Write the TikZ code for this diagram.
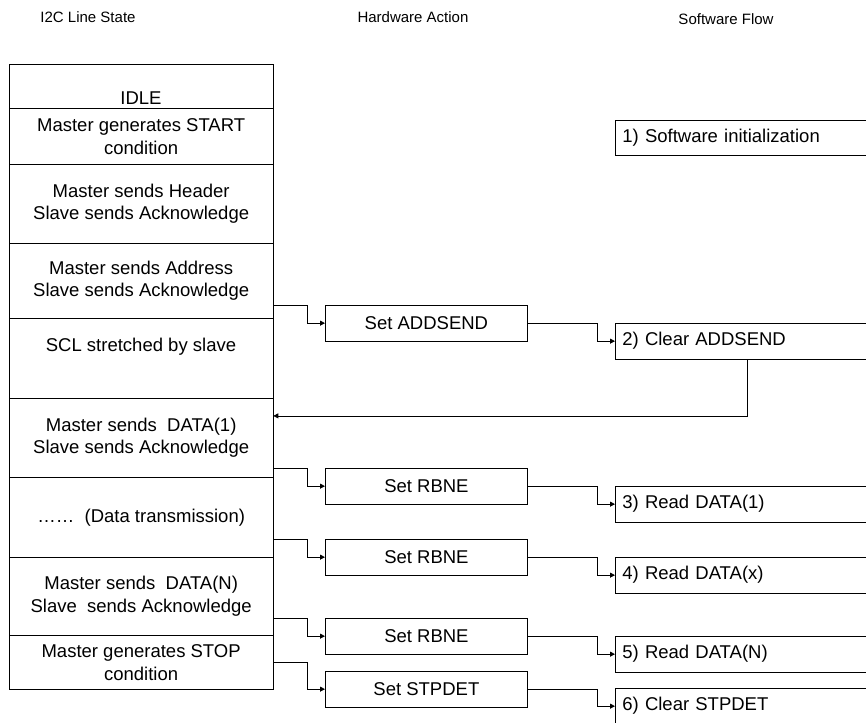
\documentclass[tikz,border=0pt]{standalone}
\usepackage{fontspec}
\setmainfont{Liberation Sans}
\usetikzlibrary{arrows.meta,calc}
\begin{document}
\begin{tikzpicture}[x=1pt,y=-1pt,
 every node/.style={font=\fontsize{18.5}{22.5}\selectfont, inner sep=0pt},
 cell/.style={draw, line width=0.8pt, minimum width=263.5, anchor=north west, align=center},
 hwbox/.style={draw, line width=0.8pt, minimum width=202, minimum height=35.5, anchor=north west},
 swbox/.style={draw, line width=0.8pt, minimum height=35.5, anchor=north west, text width=246, align=left, inner xsep=7pt},
 conn/.style={line width=0.8pt, -{Triangle[length=5pt,width=5pt]}},
 head/.style={font=\fontsize{15}{18}\selectfont}]
\useasboundingbox (0,0) rectangle (866,722);
\clip (0,0) rectangle (866,722);
% headers
\node[head] (h1) at (88,17) {I2C Line State};
\node[head] (h2) at (413,17) {Hardware Action};
\node[head] (h3) at (726,19) {Software Flow};
% line state column
\node[cell, minimum height=44] (idle) at (9,64) {};
\node (idlet) at (141,98) {IDLE};
\node[cell, minimum height=56] (start) at (9,108) {Master generates START\\condition};
\node[cell, minimum height=79] (hdr) at (9,164) {Master sends Header\\Slave sends Acknowledge};
\node[cell, minimum height=75] (addr) at (9,243) {Master sends Address\\Slave sends Acknowledge};
\node[cell, minimum height=80] (scl) at (9,318) {};
\node (sclt) at (141,347) {SCL stretched by slave};
\node[cell, minimum height=79] (d1) at (9,398) {Master sends\ \ DATA(1)\\Slave sends Acknowledge};
\node[cell, minimum height=80] (dt) at (9,477) {……\ \ (Data transmission)};
\node[cell, minimum height=78] (dn) at (9,557) {Master sends\ \ DATA(N)\\Slave\ \ sends Acknowledge};
\node[cell, minimum height=54] (stop) at (9,635) {Master generates STOP\\condition};
% hardware actions
\node[hwbox] (sa) at (325,305) {Set ADDSEND};
\node[hwbox] (r1) at (325,468) {Set RBNE};
\node[hwbox] (r2) at (325,539) {Set RBNE};
\node[hwbox] (r3) at (325,618) {Set RBNE};
\node[hwbox] (sp) at (325,671) {Set STPDET};
% software flow
\node[swbox] (s1) at (615,120) {1) Software initialization};
\node[swbox] (s2) at (615,323) {2) Clear ADDSEND};
\node[swbox] (s3) at (615,486) {3) Read DATA(1)};
\node[swbox] (s4) at (615,557) {4) Read DATA(x)};
\node[swbox] (s5) at (615,636) {5) Read DATA(N)};
\node[swbox] (s6) at (615,688) {6) Clear STPDET};
% connectors line state -> hardware
\draw[conn] (sa.north -| addr.east) -| ([xshift=-18]sa.west) -- (sa.west);
\draw[conn] (r1.north -| d1.east) -| ([xshift=-18]r1.west) -- (r1.west);
\draw[conn] (r2.north -| dt.east) -| ([xshift=-18]r2.west) -- (r2.west);
\draw[conn] (r3.north -| dn.east) -| ([xshift=-18]r3.west) -- (r3.west);
\draw[conn] (stop.east) -| ([xshift=-18]sp.west) -- (sp.west);
% hardware -> software
\draw[conn] (sa.east) -| ([xshift=-18]s2.west) -- (s2.west);
\draw[conn] (r1.east) -| ([xshift=-18]s3.west) -- (s3.west);
\draw[conn] (r2.east) -| ([xshift=-18]s4.west) -- (s4.west);
\draw[conn] (r3.east) -| ([xshift=-18]s5.west) -- (s5.west);
\draw[conn] (sp.east) -| ([xshift=-18]s6.west) -- (s6.west);
% return
\draw[conn] ([xshift=132]s2.south west) |- ([yshift=22]d1.east);
\end{tikzpicture}
\end{document}
